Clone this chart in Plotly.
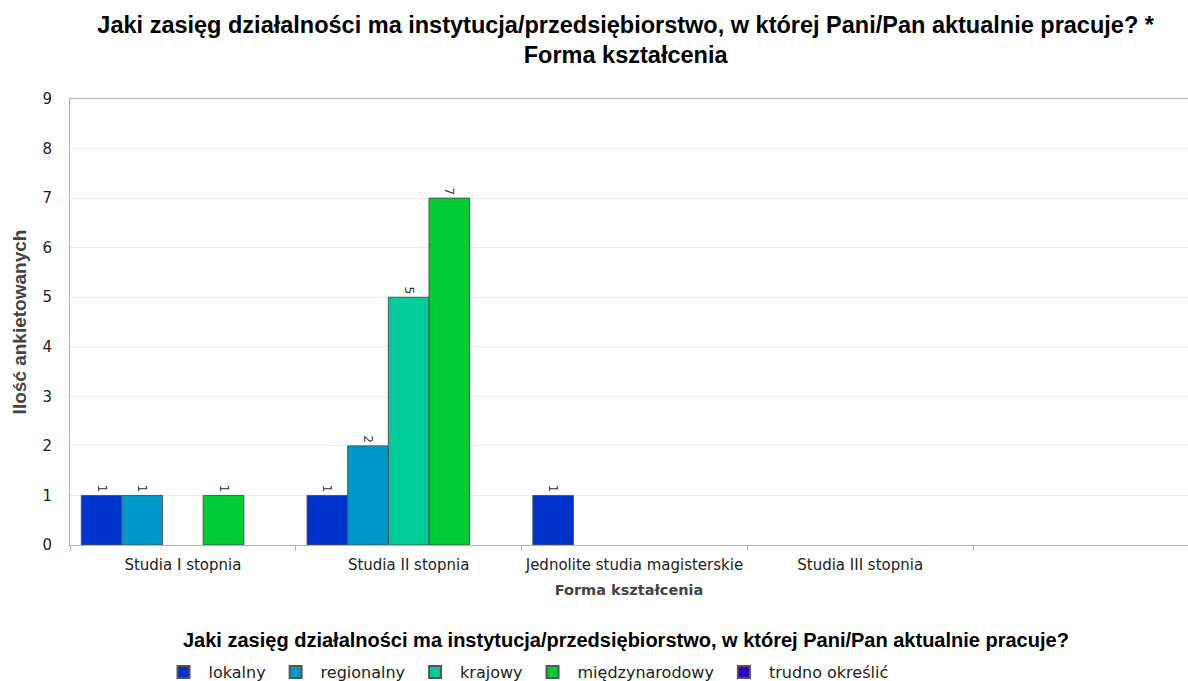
import plotly.graph_objects as go

categories = ["Studia I stopnia", "Studia II stopnia", "Jednolite studia magisterskie", "Studia III stopnia", " "]
series_names = ["lokalny", "regionalny", "krajowy", "międzynarodowy", "trudno określić"]
lokalny = [1, 1, 1, None, None]
regionalny = [1, 2, None, None, None]
krajowy = [None, 5, None, None, None]
miedzynarodowy = [1, 7, None, None, None]
trudno = [None, None, None, None, None]
series_values = [lokalny, regionalny, krajowy, miedzynarodowy, trudno]
colors = ["#0033CC", "#0099CC", "#00CC99", "#00CC33", "#3300CC"]
y_ticks = list(range(0, 10))

fig = go.Figure()
for name, vals, col in zip(series_names, series_values, colors):
    fig.add_trace(go.Bar(
        x=categories, y=vals, name=name,
        marker=dict(color=col, line=dict(color="#555555", width=1)),
        text=[str(v) if v is not None else "" for v in vals],
        textposition="outside", textangle=90,
        textfont=dict(family="DejaVu Sans", size=12, color="#333333"),
        cliponaxis=False,
    ))

fig.add_annotation(
    text="Jaki zasięg działalności ma instytucja/przedsiębiorstwo, w której Pani/Pan aktualnie pracuje?",
    xref="paper", yref="paper", x=0.497, y=-0.213, xanchor="center", yanchor="middle",
    showarrow=False,
    font=dict(family="Liberation Sans", size=20, color="#000000", weight="bold"),
)

fig.update_layout(
    width=1188, height=681,
    margin=dict(l=70, r=0, t=99, b=136, autoexpand=False),
    paper_bgcolor="white", plot_bgcolor="white",
    barmode="group", bargap=0.1, bargroupgap=0,
    title=dict(
        text="Jaki zasięg działalności ma instytucja/przedsiębiorstwo, w której Pani/Pan aktualnie pracuje? *<br>Forma kształcenia",
        x=0.497, xref="paper", xanchor="center", y=0.952, yanchor="top",
        font=dict(family="Liberation Sans", size=23.5, color="#000000", weight="bold"),
    ),
    xaxis=dict(
        type="category", categoryorder="array", categoryarray=categories,
        range=[-0.5, 4.452],
        tickson="boundaries", ticks="outside", ticklen=5, tickcolor="#b4b4b4",
        tickangle=0, automargin=False, ticklabelstandoff=6,
        showline=True, linecolor="#b4b4b4", linewidth=1, mirror=True,
        showgrid=False,
        tickfont=dict(family="DejaVu Sans", size=15, color="#222222"),
        title=dict(text="Forma kształcenia", standoff=11,
                   font=dict(family="DejaVu Sans", size=14.5, color="#444444", weight="bold")),
    ),
    yaxis=dict(
        range=[0, 9], tickvals=y_ticks, ticks="", showline=True, linecolor="#b4b4b4", linewidth=1,
        gridcolor="#ebebeb", gridwidth=1, zeroline=False, automargin=False,
        tickfont=dict(family="DejaVu Sans", size=15, color="#222222"),
        ticklabelstandoff=14,
        title=dict(text="Ilość ankietowanych", standoff=10,
                   font=dict(family="Liberation Sans", size=19, color="#444444", weight="bold")),
    ),
    legend=dict(
        orientation="h", x=0.0792, xanchor="left", y=-0.2466, yanchor="top",
        font=dict(family="DejaVu Sans", size=16, color="#222222"),
        traceorder="normal", itemsizing="constant", itemwidth=40,
    ),
    showlegend=True,
)

fig.write_html("out.html", config={"displayModeBar": False},
               post_script="document.body.style.margin='0';")
